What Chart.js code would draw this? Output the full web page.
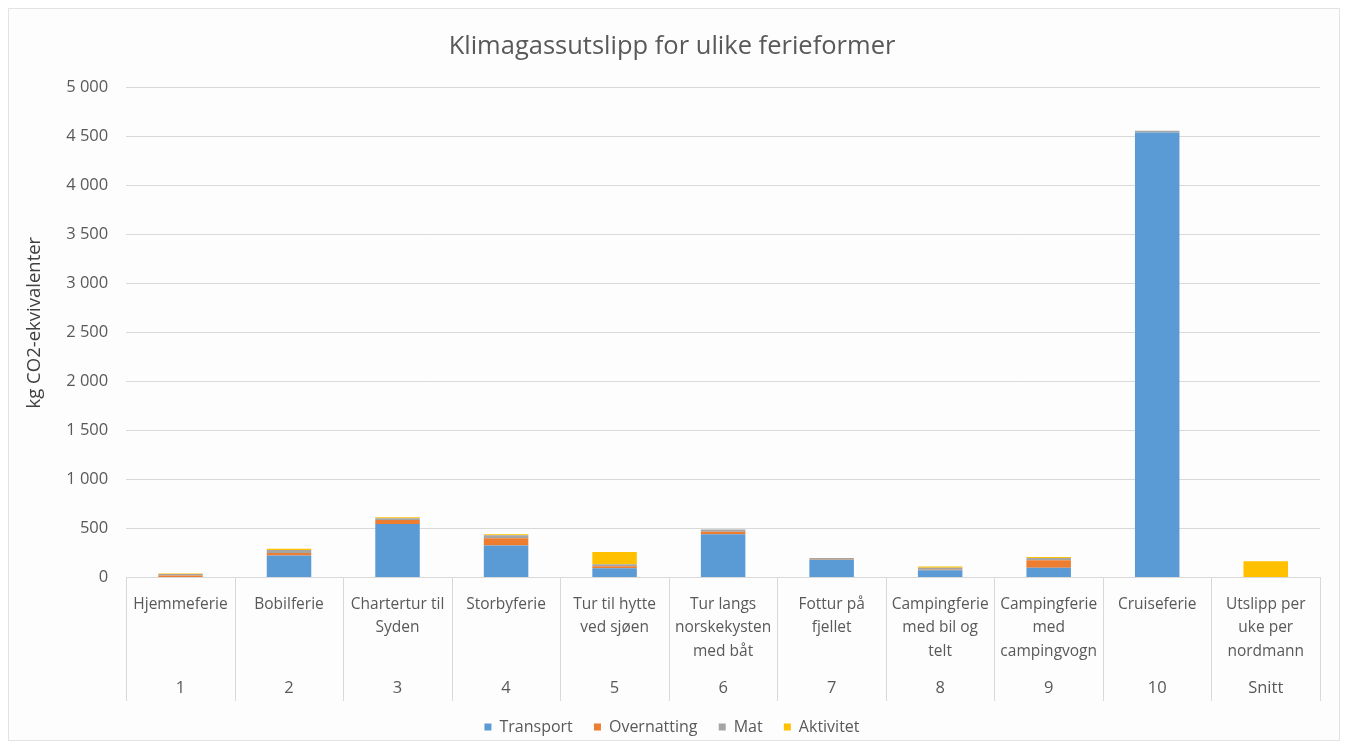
<!DOCTYPE html>
<html>
<head>
<meta charset="utf-8">
<script src="https://cdn.jsdelivr.net/npm/chart.js@4.4.1/dist/chart.umd.min.js"></script>
<style>
    html, body { margin: 0; padding: 0; background: #ffffff; }
    #wrap {
        position: absolute;
        left: 8px; top: 8px;
        width: 1330px; height: 731px;
        border: 1px solid #e3e3e3;
        background: #fdfdfd;
    }
</style>
</head>
<body>
<div id="wrap"><canvas id="chart"></canvas></div>
<script>
// Categories (multi-line names) and their index row
const categories = [
    ['Hjemmeferie'],
    ['Bobilferie'],
    ['Chartertur til', 'Syden'],
    ['Storbyferie'],
    ['Tur til hytte', 'ved sjøen'],
    ['Tur langs', 'norskekysten', 'med båt'],
    ['Fottur på', 'fjellet'],
    ['Campingferie', 'med bil og', 'telt'],
    ['Campingferie', 'med', 'campingvogn'],
    ['Cruiseferie'],
    ['Utslipp per', 'uke per', 'nordmann']
];
const numbers = ['1', '2', '3', '4', '5', '6', '7', '8', '9', '10', 'Snitt'];

// Series values (kg CO2-ekv.)
const transport   = [0, 225, 545, 325, 95, 440, 178, 75, 100, 4535, 0];
const overnatting = [20, 25, 40, 75, 20, 27, 3, 3, 75, 0, 0];
const mat         = [15, 30, 20, 30, 20, 23, 17, 22, 24, 20, 0];
const aktivitet   = [5, 12, 10, 12, 125, 0, 0, 12, 10, 0, 165];

const yTicks = [0, 500, 1000, 1500, 2000, 2500, 3000, 3500, 4000, 4500, 5000];

const fontFamily = '"Open Sans", sans-serif';
const textColor = '#595959';
const gridColor = '#d9d9d9';

// Format numbers with a space as thousands separator
function formatNumber(v) {
    return String(v).replace(/\B(?=(\d{3})+(?!\d))/g, ' ');
}

function makeSeries(label, data, color) {
    return {
        label: label,
        data: data,
        backgroundColor: color,
        borderWidth: 0,
        barPercentage: 0.41,
        categoryPercentage: 1.0,
        xAxisID: 'x'
    };
}

// Vertical dividers of the category table, placed from the x scale
const tableDividers = {
    id: 'tableDividers',
    afterDraw(chart) {
        const x = chart.scales.x;
        const x2 = chart.scales.x2;
        const c = chart.ctx;
        c.save();
        c.strokeStyle = gridColor;
        c.lineWidth = 1;
        for (let i = 0; i <= categories.length; i++) {
            const px = Math.round(x.getPixelForValue(i - 0.5)) + 0.5;
            c.beginPath();
            c.moveTo(px, x.top);
            c.lineTo(px, x2.bottom - 17);
            c.stroke();
        }
        c.restore();
    }
};

const ctx = document.getElementById('chart').getContext('2d');
const chart = new Chart(ctx, {
    type: 'bar',
    data: {
        labels: categories,
        datasets: [
            makeSeries('Transport', transport, '#5b9bd5'),
            makeSeries('Overnatting', overnatting, '#ed7d31'),
            makeSeries('Mat', mat, '#a5a5a5'),
            makeSeries('Aktivitet', aktivitet, '#ffc000')
        ]
    },
    plugins: [tableDividers],
    options: {
        responsive: true,
        maintainAspectRatio: false,
        animation: false,
        layout: {
            padding: { left: 15, right: 19, top: 10, bottom: -5 }
        },
        plugins: {
            title: {
                display: true,
                text: 'Klimagassutslipp for ulike ferieformer',
                color: textColor,
                font: { family: fontFamily, size: 25.5, weight: 'normal' },
                padding: { top: 12.7, bottom: 24.7 }
            },
            legend: {
                display: true,
                position: 'bottom',
                labels: {
                    color: textColor,
                    font: { family: fontFamily, size: 16 },
                    boxWidth: 7,
                    boxHeight: 7,
                    padding: 1,
                    // extra gap after every item but the last
                    generateLabels: chart => {
                        const items = Chart.defaults.plugins.legend.labels.generateLabels(chart);
                        items.forEach((item, i) => {
                            if (i < items.length - 1) item.text += '\u2002\u2002\u00a0';
                        });
                        return items;
                    }
                }
            },
            tooltip: { enabled: false }
        },
        scales: {
            x: {
                stacked: true,
                position: 'bottom',
                weight: 0,
                offset: true,
                border: { display: true, color: gridColor },
                grid: { display: false, drawTicks: false },
                ticks: {
                    color: textColor,
                    font: { family: fontFamily, size: 15.5, lineHeight: 1.516 },
                    padding: 15,
                    maxRotation: 0,
                    autoSkip: false
                }
            },
            x2: {
                type: 'category',
                labels: numbers,
                position: 'bottom',
                weight: 1,
                offset: true,
                border: { display: false },
                grid: { display: false, drawTicks: false },
                ticks: {
                    color: textColor,
                    font: { family: fontFamily, size: 16.5 },
                    padding: 0.6,
                    maxRotation: 0,
                    autoSkip: false
                },
                // empty title only keeps space above the legend
                title: {
                    display: true,
                    text: '',
                    font: { size: 1 },
                    padding: { top: 0, bottom: 17.8 }
                }
            },
            y: {
                stacked: true,
                min: 0,
                max: 5000,
                border: { display: false },
                grid: { color: gridColor, drawTicks: false },
                afterBuildTicks: axis => {
                    axis.ticks = yTicks.map(v => ({ value: v }));
                },
                ticks: {
                    color: textColor,
                    font: { family: fontFamily, size: 16.5 },
                    padding: 18,
                    callback: value => formatNumber(value)
                },
                title: {
                    display: true,
                    text: '\u00a0\u00a0\u00a0\u00a0kg CO2-ekvivalenter',
                    color: '#404040',
                    font: { family: fontFamily, size: 18.5 },
                    padding: { top: 0, bottom: 2 }
                }
            }
        }
    }
});
</script>
</body>
</html>
